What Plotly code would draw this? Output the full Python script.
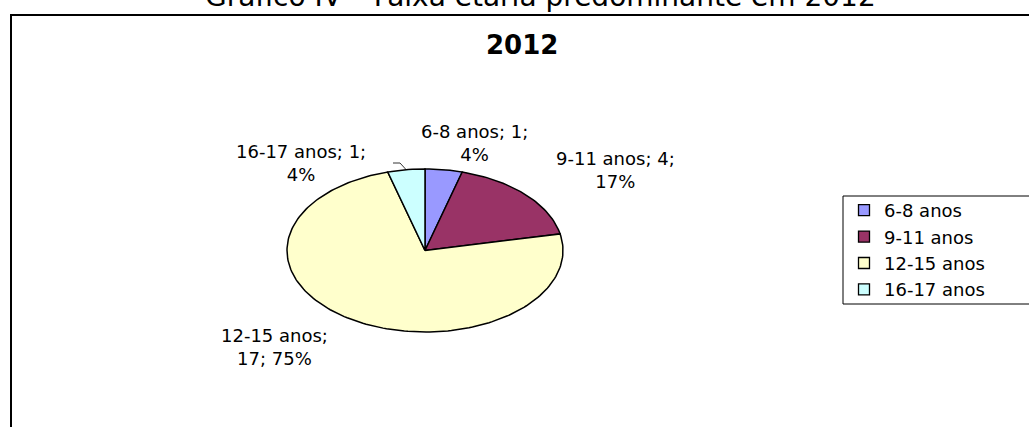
import numpy as np
import plotly.graph_objects as go

# ---- data ----
categories = ["6-8 anos", "9-11 anos", "12-15 anos", "16-17 anos"]
counts = [1, 4, 17, 1]
pct_labels = ["4%", "17%", "75%", "4%"]
chart_title = "2012"
page_title = "Gráfico IV – Faixa etária predominante em 2012"

# ---- style / layout ----
colors = ["#9999FF", "#993366", "#FFFFCC", "#CCFFFF"]
W, H = 1029, 427
CX, CY, RX, RY = 425, 250.5, 138, 81.5   # ellipse (screen pixels)
FONT = "DejaVu Sans, Arial, sans-serif"
label_text = [
    f"{categories[0]}; {counts[0]};<br>{pct_labels[0]}",
    f"{categories[1]}; {counts[1]};<br>{pct_labels[1]}",
    f"{categories[2]};<br>{counts[2]}; {pct_labels[2]}",
    f"{categories[3]}; {counts[3]};<br>{pct_labels[3]}",
]
label_pos = [(474, 143), (615, 170), (274, 347), (301, 163)]

fig = go.Figure()

total = sum(counts)
start = 0.0
mids = []
for cat, v, col in zip(categories, counts, colors):
    a0 = start / total * 2 * np.pi
    a1 = (start + v) / total * 2 * np.pi
    t = np.linspace(a0, a1, max(8, int(240 * v / total)))
    xs = np.concatenate([[CX], CX + RX * np.sin(t), [CX]])
    ys = np.concatenate([[CY], CY - RY * np.cos(t), [CY]])
    fig.add_trace(go.Scatter(
        x=xs, y=ys, mode="lines", fill="toself", fillcolor=col,
        line=dict(color="black", width=1.5), showlegend=False,
        hoverinfo="text", text=f"{cat}: {v}"))
    mids.append((a0 + a1) / 2)
    start += v

# legend entries
for cat, col in zip(categories, colors):
    fig.add_trace(go.Scatter(
        x=[None], y=[None], mode="markers", name=cat,
        marker=dict(symbol="square", size=11, color=col,
                    line=dict(color="black", width=1.3))))

# leader line for the last (small) slice
a_m = mids[3]
ex, ey = CX + RX * np.sin(a_m), CY - RY * np.cos(a_m)
fig.add_trace(go.Scatter(x=[393, 400, ex], y=[163, 163, ey], mode="lines",
                         line=dict(color="black", width=0.8),
                         showlegend=False, hoverinfo="skip"))

for txt, (lx, ly) in zip(label_text, label_pos):
    fig.add_annotation(x=lx, y=ly, xref="x", yref="y", text=txt,
                       showarrow=False, font=dict(family=FONT, size=18, color="black"),
                       align="center", xanchor="center", yanchor="middle")

fig.add_annotation(x=522, y=45, xref="x", yref="y", text=f"<b>{chart_title}</b>",
                   showarrow=False, font=dict(family=FONT, size=26, color="black"),
                   xanchor="center", yanchor="middle")
fig.add_annotation(x=540, y=15, xref="x", yref="y", text=page_title,
                   showarrow=False, font=dict(family=FONT, size=28, color="black"),
                   xanchor="center", yanchor="bottom")

# chart frame (left + top edges visible)
fig.add_shape(type="rect", x0=11, y0=15, x1=1100, y1=500, xref="x", yref="y",
              line=dict(color="black", width=2), fillcolor="rgba(0,0,0,0)")
# legend frame
fig.add_shape(type="rect", x0=843, y0=196, x1=1100, y1=304, xref="x", yref="y",
              line=dict(color="black", width=1), fillcolor="rgba(0,0,0,0)")

fig.update_layout(
    width=W, height=H, margin=dict(l=0, r=0, t=0, b=0),
    paper_bgcolor="white", plot_bgcolor="white",
    xaxis=dict(range=[0, W], visible=False, fixedrange=True),
    yaxis=dict(range=[H, 0], visible=False, fixedrange=True),
    legend=dict(x=844 / W, y=1 - 250 / H,
                xanchor="left", yanchor="middle",
                font=dict(family=FONT, size=18, color="black"),
                bgcolor="rgba(0,0,0,0)", borderwidth=0, itemwidth=30,
                tracegroupgap=0),
)

fig.write_html("out.html", config={"displayModeBar": False},
               post_script="document.body.style.margin='0';"
                           "document.body.style.overflow='hidden';")
